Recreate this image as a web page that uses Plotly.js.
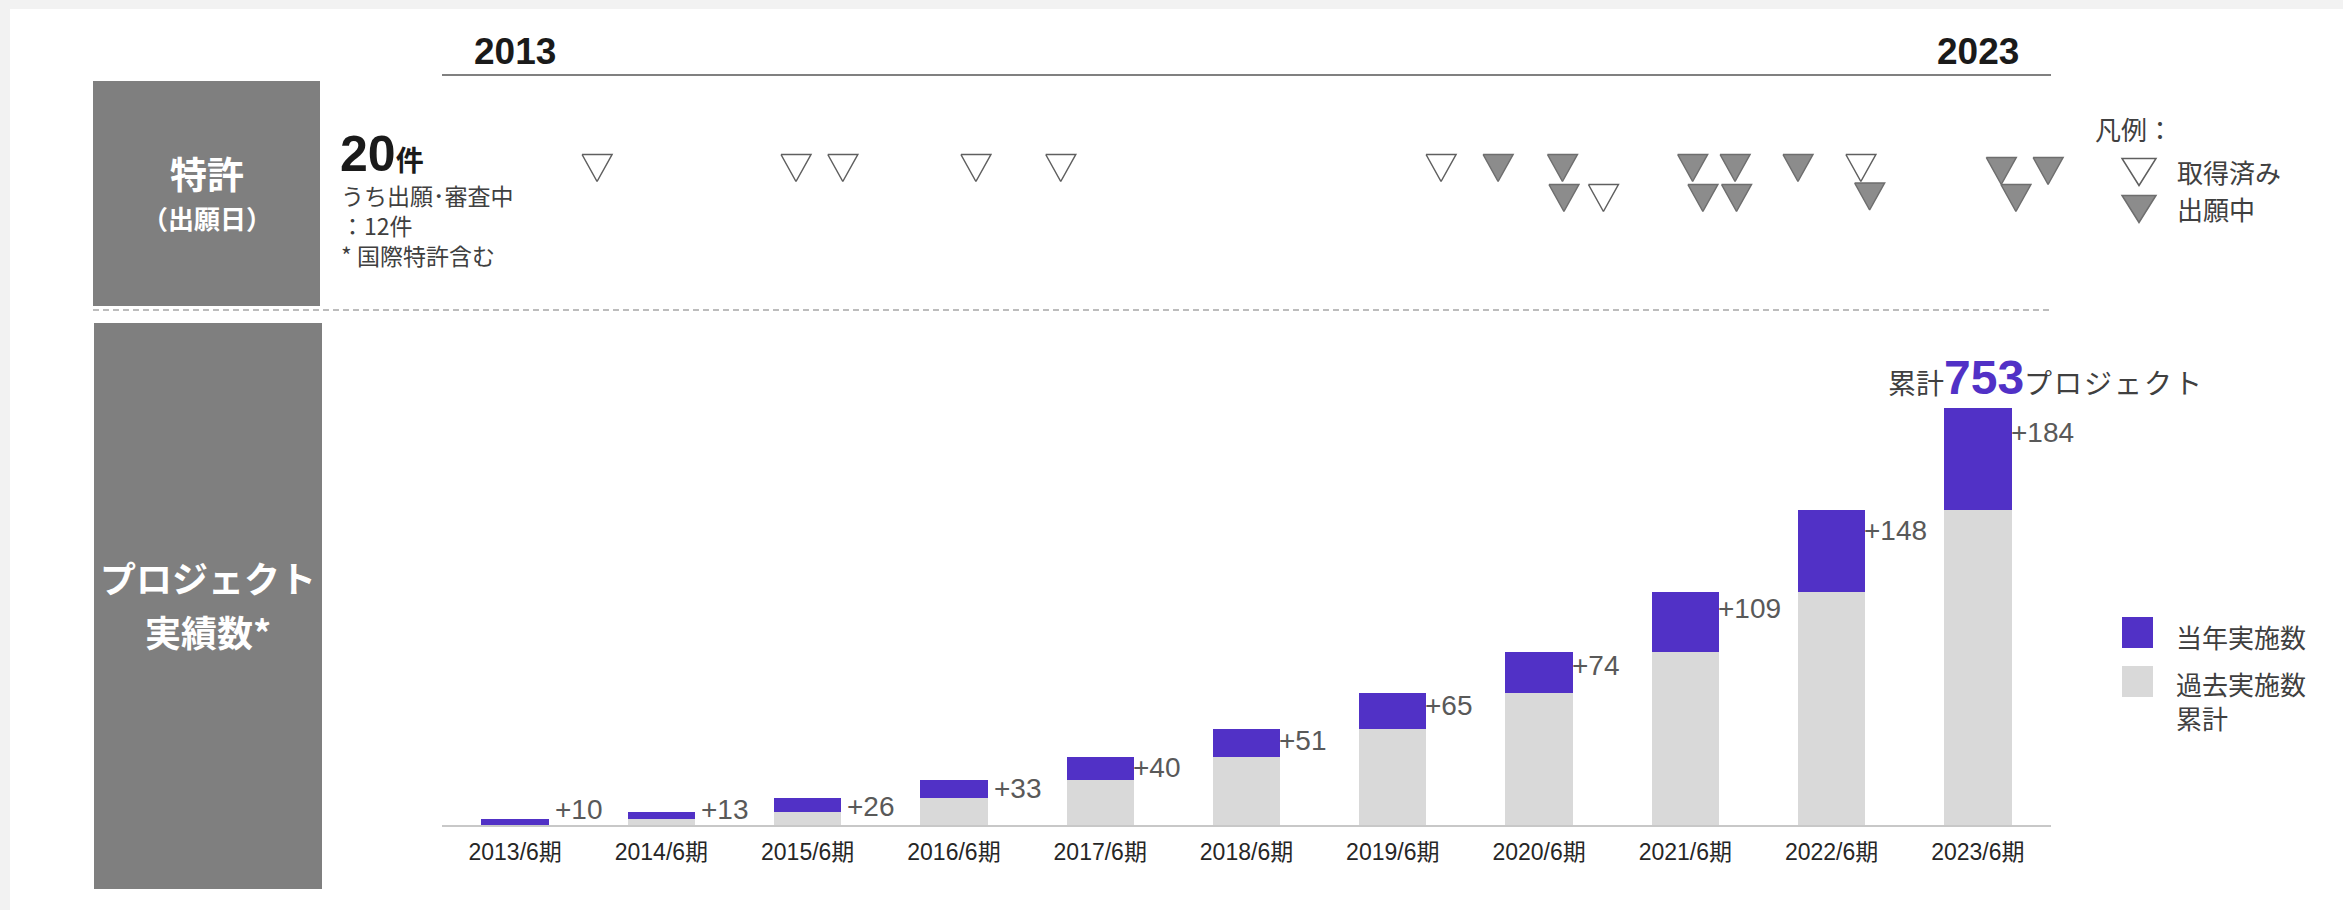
<!DOCTYPE html>
<html>
<head>
<meta charset="utf-8">
<script src="https://cdn.plot.ly/plotly-3.0.1.min.js"></script>
<style>
html,body{margin:0;padding:0;background:#f2f2f2;}
#chart{width:2343px;height:910px;}
</style>
</head>
<body>
<div id="chart"></div>
<script>
// ---------------- data ----------------
const categories = ['2013/6期','2014/6期','2015/6期','2016/6期','2017/6期','2018/6期','2019/6期','2020/6期','2021/6期','2022/6期','2023/6期'];
const newProjects = [10, 13, 26, 33, 40, 51, 65, 74, 109, 148, 184];        // 当年実施数
const pastCumulative = [0, 10, 23, 49, 82, 122, 173, 238, 312, 421, 569];   // 過去実施数累計

// patents (filing date as decimal year), status and stacking row
const patentDate   = [2013.56, 2014.92, 2015.24, 2016.15, 2016.73, 2019.33, 2019.72, 2020.16, 2020.17, 2020.44,
                      2021.05, 2021.12, 2021.34, 2021.35, 2021.77, 2022.20, 2022.26, 2023.16, 2023.26, 2023.48];
const patentStatus = ['granted','granted','granted','granted','granted','granted','pending','pending','pending','granted',
                      'pending','pending','pending','pending','pending','granted','pending','pending','pending','pending'];
const patentRow    = [1, 1, 1, 1, 1, 1, 1, 1, 2, 2,
                      1, 2, 1, 2, 1, 1, 1.95, 1.1, 2, 1.1];
const timelineYears = [2013, 2023];

const patentTotal = patentDate.length;
const patentPending = patentStatus.filter(s => s === 'pending').length;
const projectTotal = pastCumulative[pastCumulative.length-1] + newProjects[newProjects.length-1];

// ---------------- geometry helpers ----------------
const W = 2343, H = 910;
const fx = x => x / W;
const fy = y => 1 - y / H;

const PLOT_L = 442, PLOT_R = 2051;
const BASE = 825, BAR_TOP_PX = 380;
const PX_PER_UNIT = 0.5538;
const Y_MAX = (BASE - BAR_TOP_PX) / PX_PER_UNIT;
const CAT_W = (PLOT_R - PLOT_L) / categories.length;
const BARGAP = 0.54;
const HALF_BAR = CAT_W * (1 - BARGAP) / 2;

const T_TOP = 75, T_BOT = 305, ROW1 = 168, ROW_STEP = 30;
const T_RIGHT = 2090; // timeline subplot extends a bit so edge triangles are not clipped
const rowAtPx = p => 1 + (p - ROW1) / ROW_STEP;
const TRI_HALF_W = 15 / CAT_W;     // in years
const TRI_HALF_H = 13.5 / ROW_STEP; // in rows

const PURPLE = '#5131c6';
const LIGHT = '#d9d9d9';
const BOXGRAY = '#7f7f7f';
const JP = '"Noto Sans CJK JP", "Liberation Sans", sans-serif';
const LAT = '"Liberation Sans", "Noto Sans CJK JP", Arial, sans-serif';

function triTrace(status, fill, line) {
  const xs = [], ys = [];
  patentDate.forEach((d, i) => {
    if (patentStatus[i] !== status) return;
    const r = patentRow[i];
    xs.push(d - TRI_HALF_W, d + TRI_HALF_W, d, d - TRI_HALF_W, null);
    ys.push(r - TRI_HALF_H, r - TRI_HALF_H, r + TRI_HALF_H, r - TRI_HALF_H, null);
  });
  return {type:'scatter', x:xs, y:ys, xaxis:'x2', yaxis:'y2', mode:'lines',
          fill:'toself', fillcolor:fill, line:{color:line, width:1.5},
          connectgaps:false, hoverinfo:'skip', showlegend:false, cliponaxis:false,
          name: status === 'granted' ? '取得済み' : '出願中'};
}

const traces = [
  {type:'bar', x:categories, y:pastCumulative, name:'過去実施数累計',
   marker:{color:LIGHT}, showlegend:false, hoverinfo:'x+y'},
  {type:'bar', x:categories, y:newProjects, name:'当年実施数',
   marker:{color:PURPLE}, showlegend:false, hoverinfo:'x+y'},
  triTrace('granted', '#ffffff', '#5f5f5f'),
  triTrace('pending', '#8c8c8c', '#6e6e6e')
];

// ---------------- annotations ----------------
function pa(x, y, text, opts) {
  return Object.assign({x:fx(x), y:fy(y), xref:'paper', yref:'paper', text:text, showarrow:false,
                        xanchor:'left', yanchor:'middle'}, opts || {});
}
const anns = [];

// increment labels
newProjects.forEach((v, i) => {
  const total = pastCumulative[i] + v;
  const topPx = BASE - total * PX_PER_UNIT;
  let c = topPx + 0.18 * v * PX_PER_UNIT + 6;
  c = Math.min(c, BASE - 16);
  const gap = v < 35 ? 7 : 0;
  anns.push({x:categories[i], y:(BASE - c) / PX_PER_UNIT, xref:'x', yref:'y',
             text:'+' + v, showarrow:false, xanchor:'left', yanchor:'middle',
             xshift:HALF_BAR - 3 + gap, font:{family:LAT, size:28, color:'#595959'}});
});

// cumulative total label
anns.push({x:categories[categories.length-1], y:projectTotal, xref:'x', yref:'y', showarrow:false,
           xanchor:'left', yanchor:'middle', xshift:-92, yshift:30,
           text:'累計<span style="font-family:Liberation Sans;font-size:48px;font-weight:bold;color:' + PURPLE + '">' + projectTotal +
                '</span><span style="letter-spacing:2px">プロジェクト</span>',
           font:{family:JP, size:28, color:'#404040'}});

// timeline year labels
timelineYears.forEach(yr => {
  anns.push({x:yr, xref:'x2', y:fy(51), yref:'paper', text:'<b>' + yr + '</b>', showarrow:false,
             xanchor:'center', yanchor:'middle', font:{family:LAT, size:37, color:'#1a1a1a'}});
});

// left boxes text
anns.push(pa(207, 173, '<b>特許</b>', {xanchor:'center', font:{family:JP, size:37, color:'#ffffff'}}));
anns.push(pa(207, 217, '<b>（出願日）</b>', {xanchor:'center', font:{family:JP, size:26, color:'#ffffff'}}));
anns.push(pa(208, 577, '<b>プロジェクト</b>', {xanchor:'center', font:{family:JP, size:36, color:'#ffffff'}}));
anns.push(pa(208, 631, '<b>実績数*</b>', {xanchor:'center', font:{family:JP, size:36, color:'#ffffff'}}));

// patent summary
anns.push(pa(338, 154, '<b><span style="font-family:Liberation Sans;font-size:50px">' + patentTotal + '</span>件</b>',
             {font:{family:JP, size:28, color:'#1a1a1a'}}));
anns.push(pa(339, 225, 'うち出願･審査中<br>：' + patentPending + '件<br>* 国際特許含む',
             {align:'left', font:{family:JP, size:23, color:'#404040'}}));

// patent legend
anns.push(pa(2093, 129, '凡例：', {font:{family:JP, size:26, color:'#404040'}}));
anns.push(pa(2175, 171, '取得済み', {font:{family:JP, size:26, color:'#404040'}}));
anns.push(pa(2175, 209, '出願中', {font:{family:JP, size:26, color:'#404040'}}));

// bar legend
anns.push(pa(2174, 636, '当年実施数', {font:{family:JP, size:26, color:'#404040'}}));
anns.push(pa(2174, 700, '過去実施数<br>累計', {align:'left', font:{family:JP, size:26, color:'#404040'}}));

// ---------------- shapes ----------------
function rect(x0, y0, x1, y1, color) {
  return {type:'rect', xref:'paper', yref:'paper', x0:fx(x0), x1:fx(x1), y0:fy(y1), y1:fy(y0),
          fillcolor:color, line:{width:0}, layer:'below'};
}
function tri(cx, cy, hw, hh, fill, line) {
  return {type:'path', xref:'paper', yref:'paper',
          path:'M' + fx(cx-hw) + ',' + fy(cy-hh) + ' L' + fx(cx+hw) + ',' + fy(cy-hh) + ' L' + fx(cx) + ',' + fy(cy+hh) + ' Z',
          fillcolor:fill, line:{color:line, width:1.5}};
}
const shapes = [
  rect(10, 9, W, H, '#ffffff'),
  rect(93, 81, 320, 306, BOXGRAY),
  rect(94, 323, 322, 889, BOXGRAY),
  {type:'line', xref:'paper', yref:'paper', x0:fx(PLOT_L), x1:fx(PLOT_R), y0:fy(T_TOP), y1:fy(T_TOP),
   line:{color:'#808080', width:2}},
  {type:'line', xref:'paper', yref:'paper', x0:fx(93), x1:fx(2051), y0:fy(310), y1:fy(310),
   line:{color:'#a6a6a6', width:1.5, dash:'6px,4px'}},
  tri(2139, 172, 17, 13.5, '#ffffff', '#5f5f5f'),
  tri(2139, 209, 17, 13.5, '#8c8c8c', '#6e6e6e'),
  rect(2122, 617, 2153, 648, PURPLE),
  rect(2122, 666, 2153, 697, LIGHT)
];

// ---------------- layout ----------------
const x2Max = timelineYears[0] - 0.5 + (T_RIGHT - PLOT_L) / CAT_W;
const layout = {
  width:W, height:H,
  margin:{l:0, r:0, t:0, b:0, pad:0},
  paper_bgcolor:'#f2f2f2',
  plot_bgcolor:'rgba(0,0,0,0)',
  font:{family:LAT, color:'#262626'},
  barmode:'stack',
  bargap:BARGAP,
  showlegend:false,
  xaxis:{domain:[fx(PLOT_L), fx(PLOT_R)], type:'category', range:[-0.5, categories.length-0.5],
         anchor:'y', showgrid:false, zeroline:false, showline:true, linecolor:'#c8c8c8', linewidth:2,
         ticks:'', ticklabelstandoff:5, tickfont:{family:LAT, size:23, color:'#262626'}, fixedrange:true},
  yaxis:{domain:[fy(BASE), fy(BAR_TOP_PX)], range:[0, Y_MAX], visible:false, fixedrange:true},
  xaxis2:{domain:[fx(PLOT_L), fx(T_RIGHT)], range:[timelineYears[0]-0.5, x2Max], anchor:'y2',
          showline:false, showticklabels:false, ticks:'', showgrid:false, zeroline:false, fixedrange:true},
  yaxis2:{domain:[fy(T_BOT), fy(T_TOP)], range:[rowAtPx(T_BOT), rowAtPx(T_TOP)], anchor:'x2',
          visible:false, fixedrange:true},
  annotations:anns,
  shapes:shapes
};

Plotly.newPlot('chart', traces, layout, {displayModeBar:false, staticPlot:true});
</script>
</body>
</html>
